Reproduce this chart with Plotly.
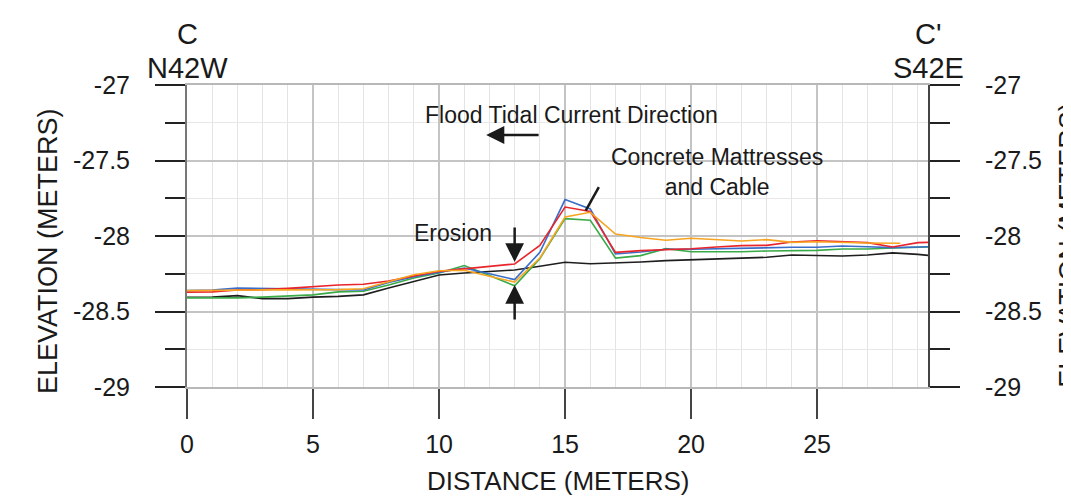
import plotly.graph_objects as go

# ---- data ----
distance = [0, 1, 2, 3, 4, 5, 6, 7, 8, 9, 10, 11, 12, 13, 14, 15, 16, 17, 18, 19,
            20, 21, 22, 23, 24, 25, 26, 27, 28, 29, 29.4]
distance_orange = [0, 1, 2, 3, 4, 5, 6, 7, 8, 9, 10, 11, 12, 13, 14, 15, 16, 17, 18, 19,
                   20, 21, 22, 23, 24, 25, 26, 27, 28.3]

elev_black = [-28.406, -28.405, -28.395, -28.415, -28.415, -28.405, -28.400, -28.390, -28.345, -28.300,
              -28.258, -28.245, -28.236, -28.225, -28.200, -28.174, -28.184, -28.180, -28.172, -28.163,
              -28.157, -28.148, -28.146, -28.141, -28.126, -28.128, -28.132, -28.126, -28.112, -28.122, -28.128]
elev_green = [-28.410, -28.410, -28.410, -28.405, -28.398, -28.390, -28.370, -28.366, -28.325, -28.278,
              -28.245, -28.196, -28.262, -28.330, -28.150, -27.885, -27.896, -28.146, -28.130, -28.084,
              -28.104, -28.106, -28.104, -28.099, -28.097, -28.095, -28.086, -28.086, -28.079, -28.073, -28.073]
elev_blue = [-28.362, -28.358, -28.345, -28.347, -28.347, -28.350, -28.355, -28.358, -28.308, -28.270,
             -28.240, -28.212, -28.250, -28.289, -28.108, -27.759, -27.821, -28.119, -28.106, -28.088,
             -28.088, -28.084, -28.082, -28.077, -28.075, -28.075, -28.066, -28.071, -28.077, -28.073, -28.071]
elev_red = [-28.372, -28.370, -28.358, -28.355, -28.347, -28.335, -28.325, -28.320, -28.298, -28.265,
            -28.234, -28.218, -28.202, -28.185, -28.062, -27.808, -27.837, -28.108, -28.097, -28.092,
            -28.084, -28.073, -28.064, -28.062, -28.040, -28.031, -28.038, -28.044, -28.073, -28.044, -28.042]
elev_orange = [-28.362, -28.360, -28.356, -28.357, -28.357, -28.357, -28.355, -28.349, -28.300, -28.256,
               -28.230, -28.227, -28.266, -28.305, -28.146, -27.874, -27.843, -27.987, -28.010, -28.028,
               -28.015, -28.024, -28.033, -28.024, -28.042, -28.038, -28.044, -28.046, -28.048]

x_ticks = [0, 5, 10, 15, 20, 25]
y_ticks = [-29, -28.5, -28, -27.5, -27]
y_tick_labels = ["-29", "-28.5", "-28", "-27.5", "-27"]

FONT = "Arial, 'Liberation Sans', Helvetica, sans-serif"
TXT = "#1a1a1a"

fig = go.Figure()
series = [
    (distance, elev_black, "#1e1e1e"),
    (distance, elev_green, "#3aaa48"),
    (distance, elev_blue, "#3a6dc8"),
    (distance, elev_red, "#e8252b"),
    (distance_orange, elev_orange, "#f7a520"),
]
for xs, ys, col in series:
    fig.add_trace(go.Scatter(x=xs, y=ys, mode="lines", line=dict(color=col, width=1.6),
                             showlegend=False, hoverinfo="skip"))

# invisible trace for right axis
fig.add_trace(go.Scatter(x=[0], y=[-28], yaxis="y2", mode="markers",
                         marker=dict(opacity=0), showlegend=False, hoverinfo="skip"))

fig.update_layout(
    width=1071, height=497,
    margin=dict(l=179, r=151, t=77, b=118),
    paper_bgcolor="white", plot_bgcolor="white",
    font=dict(family=FONT, size=25, color=TXT),
    xaxis=dict(
        range=[0, 29.4], tickvals=x_ticks, ticks="outside", ticklen=30, tickwidth=1.5,
        tickcolor="#444", showgrid=True, gridcolor="#c4c4c4", gridwidth=1.5,
        minor=dict(dtick=1, showgrid=True, gridcolor="#e4e4e4", gridwidth=1.3, ticks=""),
        showline=True, linecolor="#b8b8b8", linewidth=1.5, mirror=True,
        zeroline=False, ticklabelstandoff=4,
        tickfont=dict(size=25, color=TXT),
    ),
    yaxis=dict(
        range=[-29, -27], tickvals=y_ticks, ticktext=y_tick_labels,
        ticks="outside", ticklen=30, tickwidth=1.5, tickcolor="#222",
        showgrid=True, gridcolor="#c4c4c4", gridwidth=1.5,
        minor=dict(dtick=0.25, tick0=-29, showgrid=True, gridcolor="#e8e8e8", gridwidth=1.3,
                   ticks="outside", ticklen=20, tickwidth=1.5, tickcolor="#222"),
        showline=True, linecolor="#777", linewidth=2,
        zeroline=False, ticklabelstandoff=20,
        tickfont=dict(size=25, color=TXT),
    ),
    yaxis2=dict(
        range=[-29, -27], tickvals=y_ticks, ticktext=y_tick_labels,
        overlaying="y", side="right",
        ticks="outside", ticklen=30, tickwidth=1.5, tickcolor="#222",
        minor=dict(dtick=0.25, tick0=-29, ticks="outside", ticklen=20, tickwidth=1.5, tickcolor="#222"),
        showgrid=False, showline=True, linecolor="#444", linewidth=2,
        zeroline=False, ticklabelstandoff=20,
        tickfont=dict(size=25, color=TXT),
    ),
)

annotations = [
    # axis titles
    dict(text="DISTANCE (METERS)", xref="paper", yref="paper", x=0.5, y=-0.31,
         xanchor="center", yanchor="middle", showarrow=False, font=dict(size=26)),
    dict(text="ELEVATION (METERS)", xref="paper", yref="paper", x=-0.1876, y=0.45,
         xanchor="center", yanchor="middle", textangle=-90, showarrow=False, font=dict(size=27)),
    dict(text="ELEVATION (METERS)", xref="paper", yref="paper", x=1.19, y=0.47,
         xanchor="center", yanchor="middle", textangle=-90, showarrow=False, font=dict(size=27)),
    # section labels
    dict(text="C", xref="paper", yref="paper", x=0.0, y=1.17, xanchor="center", yanchor="middle",
         showarrow=False, font=dict(size=29)),
    dict(text="N42W", xref="paper", yref="paper", x=0.0, y=1.055, xanchor="center", yanchor="middle",
         showarrow=False, font=dict(size=29)),
    dict(text="C'", xref="paper", yref="paper", x=1.0, y=1.17, xanchor="center", yanchor="middle",
         showarrow=False, font=dict(size=29)),
    dict(text="S42E", xref="paper", yref="paper", x=1.0, y=1.055, xanchor="center", yanchor="middle",
         showarrow=False, font=dict(size=29)),
    # in-plot labels
    dict(text="Flood Tidal Current Direction", x=15.24, y=-27.199, xref="x", yref="y",
         showarrow=False, font=dict(size=23)),
    dict(text="Concrete Mattresses<br>and Cable", x=21.03, y=-27.576, xref="x", yref="y",
         showarrow=False, font=dict(size=23), align="center"),
    dict(text="Erosion", x=10.56, y=-27.98, xref="x", yref="y", showarrow=False, font=dict(size=23)),
    # arrows
    dict(x=11.87, y=-27.331, ax=14.01, ay=-27.331, xref="x", yref="y", axref="x", ayref="y",
         text="", showarrow=True, arrowhead=2, arrowsize=1.45, arrowwidth=2.5, arrowcolor="#1a1a1a"),
    dict(x=13.0, y=-28.172, ax=13.0, ay=-27.934, xref="x", yref="y", axref="x", ayref="y",
         text="", showarrow=True, arrowhead=2, arrowsize=1.5, arrowwidth=2.5, arrowcolor="#1a1a1a"),
    dict(x=13.0, y=-28.325, ax=13.0, ay=-28.563, xref="x", yref="y", axref="x", ayref="y",
         text="", showarrow=True, arrowhead=2, arrowsize=1.5, arrowwidth=2.5, arrowcolor="#1a1a1a"),
]
fig.update_layout(annotations=annotations)

fig.add_shape(type="line", x0=16.34, y0=-27.677, x1=15.82, y1=-27.832, xref="x", yref="y",
              line=dict(color="#1a1a1a", width=2.5))

fig.write_html("out.html")
